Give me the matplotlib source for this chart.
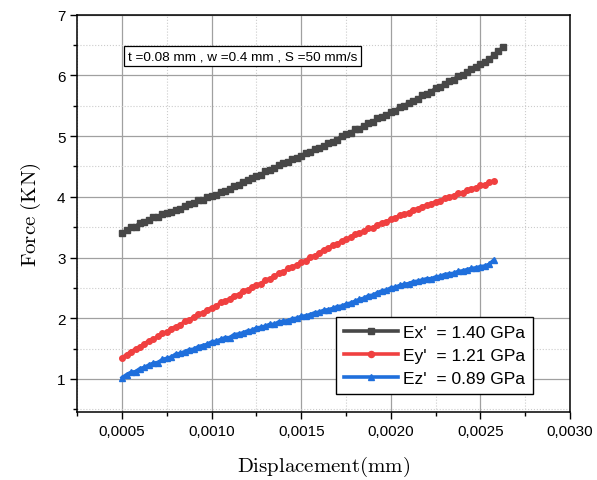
import matplotlib
matplotlib.use("Agg")
import matplotlib.pyplot as plt
from matplotlib.ticker import FixedLocator, MultipleLocator

plt.rcParams['font.family'] = ['Liberation Sans', 'DejaVu Sans']
plt.rcParams['mathtext.fontset'] = 'cm'

# displacement (mm)
x_vals = [0.000500, 0.000525, 0.000550, 0.000575, 0.000600, 0.000625, 0.000650, 0.000675,
          0.000700, 0.000725, 0.000750, 0.000775, 0.000800, 0.000825, 0.000850, 0.000875,
          0.000900, 0.000925, 0.000950, 0.000975, 0.001000, 0.001025, 0.001050, 0.001075,
          0.001100, 0.001125, 0.001150, 0.001175, 0.001200, 0.001225, 0.001250, 0.001275,
          0.001300, 0.001325, 0.001350, 0.001375, 0.001400, 0.001425, 0.001450, 0.001475,
          0.001500, 0.001525, 0.001550, 0.001575, 0.001600, 0.001625, 0.001650, 0.001675,
          0.001700, 0.001725, 0.001750, 0.001775, 0.001800, 0.001825, 0.001850, 0.001875,
          0.001900, 0.001925, 0.001950, 0.001975, 0.002000, 0.002025, 0.002050, 0.002075,
          0.002100, 0.002125, 0.002150, 0.002175, 0.002200, 0.002225, 0.002250, 0.002275,
          0.002300, 0.002325, 0.002350, 0.002375, 0.002400, 0.002425, 0.002450, 0.002475,
          0.002500, 0.002525, 0.002550, 0.002575, 0.002600, 0.002625]

# force (KN) (each series uses the first len(values) x points)
force_ex = [3.40, 3.45, 3.50, 3.51, 3.57, 3.58, 3.62, 3.66, 3.66, 3.71, 3.74, 3.75,
            3.79, 3.80, 3.85, 3.88, 3.89, 3.94, 3.95, 3.99, 4.01, 4.03, 4.08, 4.10,
            4.13, 4.18, 4.20, 4.25, 4.27, 4.31, 4.35, 4.36, 4.42, 4.44, 4.47, 4.52,
            4.55, 4.57, 4.63, 4.64, 4.68, 4.72, 4.73, 4.79, 4.81, 4.83, 4.89, 4.91,
            4.94, 5.00, 5.03, 5.05, 5.11, 5.12, 5.17, 5.21, 5.23, 5.29, 5.31, 5.35,
            5.39, 5.42, 5.48, 5.50, 5.55, 5.58, 5.61, 5.67, 5.70, 5.73, 5.79, 5.81,
            5.86, 5.90, 5.93, 5.99, 6.01, 6.05, 6.10, 6.13, 6.18, 6.22, 6.27, 6.33,
            6.40, 6.46]
force_ey = [1.35, 1.40, 1.45, 1.49, 1.53, 1.58, 1.63, 1.65, 1.70, 1.75, 1.77, 1.83,
            1.86, 1.89, 1.95, 1.97, 2.02, 2.07, 2.09, 2.14, 2.17, 2.20, 2.26, 2.28,
            2.32, 2.37, 2.39, 2.45, 2.47, 2.51, 2.55, 2.57, 2.63, 2.65, 2.69, 2.74,
            2.76, 2.82, 2.84, 2.88, 2.92, 2.95, 3.01, 3.03, 3.07, 3.13, 3.15, 3.20,
            3.22, 3.27, 3.30, 3.33, 3.38, 3.40, 3.43, 3.48, 3.49, 3.54, 3.57, 3.59,
            3.63, 3.65, 3.70, 3.71, 3.74, 3.79, 3.80, 3.84, 3.86, 3.88, 3.92, 3.93,
            3.98, 3.99, 4.02, 4.06, 4.07, 4.11, 4.13, 4.15, 4.19, 4.20, 4.24, 4.26]
force_ez = [1.02, 1.07, 1.11, 1.12, 1.17, 1.19, 1.23, 1.26, 1.27, 1.32, 1.34, 1.36,
            1.41, 1.42, 1.45, 1.48, 1.49, 1.53, 1.55, 1.57, 1.61, 1.62, 1.65, 1.68,
            1.68, 1.73, 1.74, 1.76, 1.79, 1.80, 1.84, 1.85, 1.87, 1.90, 1.90, 1.94,
            1.95, 1.96, 1.99, 2.00, 2.03, 2.04, 2.06, 2.09, 2.10, 2.13, 2.14, 2.16,
            2.19, 2.20, 2.23, 2.25, 2.28, 2.31, 2.33, 2.37, 2.38, 2.42, 2.45, 2.46,
            2.50, 2.51, 2.54, 2.56, 2.57, 2.60, 2.61, 2.63, 2.65, 2.65, 2.68, 2.69,
            2.72, 2.73, 2.74, 2.77, 2.78, 2.80, 2.82, 2.83, 2.85, 2.86, 2.89, 2.96]

labels = ["Ex'  = 1.40 GPa", "Ey'  = 1.21 GPa", "Ez'  = 0.89 GPa"]
colors = ["#474747", "#f04040", "#1f6fdc"]
markers = ["s", "o", "^"]

x_ticks = [0.0005, 0.0010, 0.0015, 0.0020, 0.0025, 0.0030]
x_tick_labels = ["0,0005", "0,0010", "0,0015", "0,0020", "0,0025", "0,0030"]
y_ticks = [1, 2, 3, 4, 5, 6, 7]

fig = plt.figure(figsize=(5.97, 4.81), dpi=100)
ax = fig.add_axes([0.1295, 0.142, 0.8253, 0.8254])

for yv, lab, c, m in zip([force_ex, force_ey, force_ez], labels, colors, markers):
    ax.plot(x_vals[:len(yv)], yv, color=c, marker=m, markersize=4, lw=2.6, label=lab)

ax.set_xlim(0.00025, 0.0030)
ax.set_ylim(0.46, 7)
ax.xaxis.set_major_locator(FixedLocator(x_ticks))
ax.set_xticklabels(x_tick_labels)
ax.xaxis.set_minor_locator(MultipleLocator(0.00025))
ax.set_yticks(y_ticks)
ax.yaxis.set_minor_locator(MultipleLocator(0.5))

ax.grid(which='major', color='#a0a0a0', lw=0.9, ls='-')
ax.grid(which='minor', color='#cccccc', lw=0.8, ls=':')
ax.set_axisbelow(True)
ax.tick_params(which='major', length=5, width=1, direction='out', labelsize=11)
ax.tick_params(which='minor', length=3, width=1, direction='out')
for s in ax.spines.values():
    s.set_linewidth(1.1)

ax.set_xlabel(r'$\mathrm{Displacement(mm)}$', fontsize=15, labelpad=12)
ax.set_ylabel(r'$\mathrm{Force\ (KN)}$', fontsize=15, labelpad=10)

ax.text(0.103, 0.895, "t =0.08 mm , w =0.4 mm , S =50 mm/s", transform=ax.transAxes,
        fontsize=9.7, va='center',
        bbox=dict(boxstyle='square,pad=0.3', fc='white', ec='black', lw=0.9))

ax.legend(loc='lower left', bbox_to_anchor=(0.526, 0.045), borderaxespad=0,
          fancybox=False, edgecolor='black', framealpha=1, fontsize=12.5,
          handlelength=3.1, handletextpad=0.3, labelspacing=0.45, borderpad=0.45,
          markerscale=1.1)

fig.savefig("out.png", dpi=100)
